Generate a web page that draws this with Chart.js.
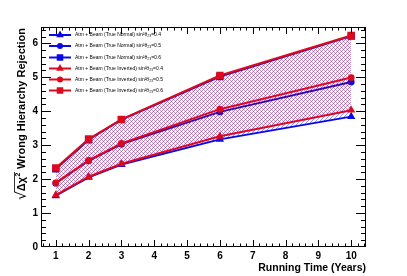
<!DOCTYPE html>
<html>
<head>
<meta charset="utf-8">
<script src="https://cdn.jsdelivr.net/npm/chart.js@4/dist/chart.umd.min.js"></script>
<style>
  html, body { margin: 0; padding: 0; background: #fff; }
  #wrap { width: 407px; height: 276px; }
</style>
</head>
<body>
<div id="wrap"><canvas id="chart" width="407" height="276"></canvas></div>
<script>
// running time (years)
const years = [1, 2, 3, 6, 10];

// sqrt(delta chi2), true normal hierarchy
const normal04 = [1.51, 2.05, 2.43, 3.17, 3.84];
const normal05 = [1.88, 2.54, 3.03, 3.98, 4.86];
const normal06 = [2.30, 3.16, 3.75, 5.02, 6.21];

// sqrt(delta chi2), true inverted hierarchy
const inverted04 = [1.53, 2.07, 2.45, 3.26, 4.03];
const inverted05 = [1.89, 2.55, 3.05, 4.06, 4.99];
const inverted06 = [2.33, 3.18, 3.76, 5.05, 6.23];

const legendLabels = [
  'Atm + Beam (True Normal) sin\u00b2\u03b8\u2082\u2083=0.4',
  'Atm + Beam (True Normal) sin\u00b2\u03b8\u2082\u2083=0.5',
  'Atm + Beam (True Normal) sin\u00b2\u03b8\u2082\u2083=0.6',
  'Atm + Beam (True Inverted) sin\u00b2\u03b8\u2082\u2083=0.4',
  'Atm + Beam (True Inverted) sin\u00b2\u03b8\u2082\u2083=0.5',
  'Atm + Beam (True Inverted) sin\u00b2\u03b8\u2082\u2083=0.6'
];

const xTicks = [1, 2, 3, 4, 5, 6, 7, 8, 9, 10];
const yTicks = [0, 1, 2, 3, 4, 5, 6];

const BLUE = '#0a0ae6';
const RED = '#dc0a1e';
const FONT = '"Liberation Sans", Arial, sans-serif';

// small hatch tiles, one diagonal per colour
function makeHatch(color, flip) {
  const c = document.createElement('canvas');
  c.width = 4; c.height = 4;
  const g = c.getContext('2d');
  g.fillStyle = color;
  g.globalAlpha = 0.45;
  for (let y = 0; y < 4; y++) {
    for (let x = 0; x < 4; x++) {
      const on = flip ? ((x - y + 4) % 4 === 2) : ((x + y) % 4 === 0);
      if (on) g.fillRect(x, y, 1, 1);
    }
  }
  return document.getElementById('chart').getContext('2d').createPattern(c, 'repeat');
}

const blueHatch = makeHatch(BLUE, false);
const redHatch = makeHatch(RED, true);

function series(data) {
  return data.map((v, i) => ({ x: years[i], y: v }));
}

function ds(label, data, color, style, radius, order, fill) {
  return {
    label: label,
    data: series(data),
    borderColor: color,
    backgroundColor: color,
    pointBackgroundColor: color,
    pointBorderColor: color,
    pointStyle: style,
    pointRadius: radius,
    borderWidth: 2,
    tension: 0,
    order: order,
    fill: fill
  };
}

const datasets = [
  ds(legendLabels[0], normal04, BLUE, 'triangle', 2.8, 1, { target: 2, above: blueHatch, below: blueHatch }),
  ds(legendLabels[1], normal05, BLUE, 'circle', 2.4, 1, false),
  ds(legendLabels[2], normal06, BLUE, 'rect', 3.8, 1, false),
  ds(legendLabels[3], inverted04, RED, 'triangle', 2.8, 0, { target: 5, above: redHatch, below: redHatch }),
  ds(legendLabels[4], inverted05, RED, 'circle', 2.4, 0, false),
  ds(legendLabels[5], inverted06, RED, 'rect', 3.8, 0, false)
];
datasets[0].backgroundColor = blueHatch;
datasets[3].backgroundColor = redHatch;

// frame, ticks, labels, titles and legend in ROOT style
const rootFrame = {
  id: 'rootFrame',
  afterDraw(chart) {
    const ctx = chart.ctx;
    const a = chart.chartArea;
    const xs = chart.scales.x;
    const ys = chart.scales.y;
    ctx.save();
    ctx.strokeStyle = '#000';
    ctx.lineWidth = 1;
    ctx.strokeRect(a.left + 0.5, a.top + 0.5, a.right - a.left - 1, a.bottom - a.top - 1);

    ctx.beginPath();
    for (let v = 0.6; v <= 10.41; v += 0.2) {
      const px = Math.round(xs.getPixelForValue(v)) + 0.5;
      const major = Math.abs(v - Math.round(v)) < 0.01;
      const len = major ? 7 : 3.5;
      ctx.moveTo(px, a.bottom); ctx.lineTo(px, a.bottom - len);
      ctx.moveTo(px, a.top); ctx.lineTo(px, a.top + len);
    }
    for (let v = 0.2; v <= 6.41; v += 0.2) {
      const py = Math.round(ys.getPixelForValue(v)) + 0.5;
      const major = Math.abs(v - Math.round(v)) < 0.01;
      const len = major ? 10 : 5;
      ctx.moveTo(a.left, py); ctx.lineTo(a.left + len, py);
      ctx.moveTo(a.right, py); ctx.lineTo(a.right - len, py);
    }
    ctx.stroke();

    ctx.fillStyle = '#000';
    ctx.font = 'bold 10px ' + FONT;
    ctx.textAlign = 'center';
    ctx.textBaseline = 'middle';
    xTicks.forEach(v => ctx.fillText(String(v), xs.getPixelForValue(v), a.bottom + 9));
    ctx.textAlign = 'right';
    yTicks.forEach(v => ctx.fillText(String(v), a.left - 3, ys.getPixelForValue(v)));

    ctx.font = 'bold 10.5px ' + FONT;
    ctx.textAlign = 'right';
    ctx.fillText('Running Time (Years)', a.right, a.bottom + 21);

    // y title, rotated, ending at the top of the frame
    ctx.save();
    ctx.translate(21, a.top + 1);
    ctx.rotate(-Math.PI / 2);
    ctx.textBaseline = 'middle';
    ctx.textAlign = 'left';
    const rest = ' Wrong Hierarchy Rejection';
    const fMain = 'bold 11px ' + FONT;
    const fRoot = '14px "DejaVu Sans", sans-serif';
    const fSup = 'bold 7px ' + FONT;
    ctx.font = fRoot; const wRoot = ctx.measureText('\u221a').width;
    ctx.font = fMain; const wDc = ctx.measureText('\u0394\u03c7').width;
    ctx.font = fSup; const wSup = ctx.measureText('2').width + 1;
    ctx.font = fMain; const wRest = ctx.measureText(rest).width;
    let x = -(wRoot + wDc + wSup + wRest);
    ctx.font = fRoot; ctx.fillText('\u221a', x, 1);
    const ox = x + wRoot - 1;
    x += wRoot;
    ctx.font = fMain; ctx.fillText('\u0394\u03c7', x, 1);
    x += wDc;
    ctx.font = fSup; ctx.fillText('2', x + 0.5, -3);
    x += wSup;
    ctx.beginPath();
    ctx.lineWidth = 0.8;
    ctx.moveTo(ox, -6.5); ctx.lineTo(x, -6.5);
    ctx.stroke();
    ctx.font = fMain; ctx.fillText(rest, x, 1);
    ctx.restore();

    // legend
    const rowY = [35, 46, 57.5, 68.5, 79.5, 90.5];
    ctx.font = '5px ' + FONT;
    ctx.textAlign = 'left';
    ctx.textBaseline = 'middle';
    chart.data.datasets.forEach((d, i) => {
      const y = rowY[i];
      ctx.strokeStyle = d.borderColor;
      ctx.lineWidth = 2;
      ctx.beginPath();
      ctx.moveTo(49, y); ctx.lineTo(71, y);
      ctx.stroke();
      Chart.helpers.drawPoint(ctx, {
        pointStyle: d.pointStyle, radius: d.pointRadius * 0.85, rotation: 0, borderWidth: 1
      }, 60, y);
      ctx.fillStyle = d.borderColor;
      ctx.fill();
      ctx.fillStyle = '#000';
      ctx.fillText(d.label, 75, y);
    });
    ctx.restore();
  }
};

new Chart(document.getElementById('chart'), {
  type: 'line',
  data: { datasets: datasets },
  options: {
    responsive: false,
    animation: false,
    layout: { padding: { left: 41, right: 41, top: 27, bottom: 29 } },
    plugins: { legend: { display: false }, tooltip: { enabled: false } },
    scales: {
      x: { type: 'linear', min: 0.55, max: 10.45, display: false },
      y: { type: 'linear', min: 0, max: 6.48, display: false }
    }
  },
  plugins: [rootFrame]
});
</script>
</body>
</html>
